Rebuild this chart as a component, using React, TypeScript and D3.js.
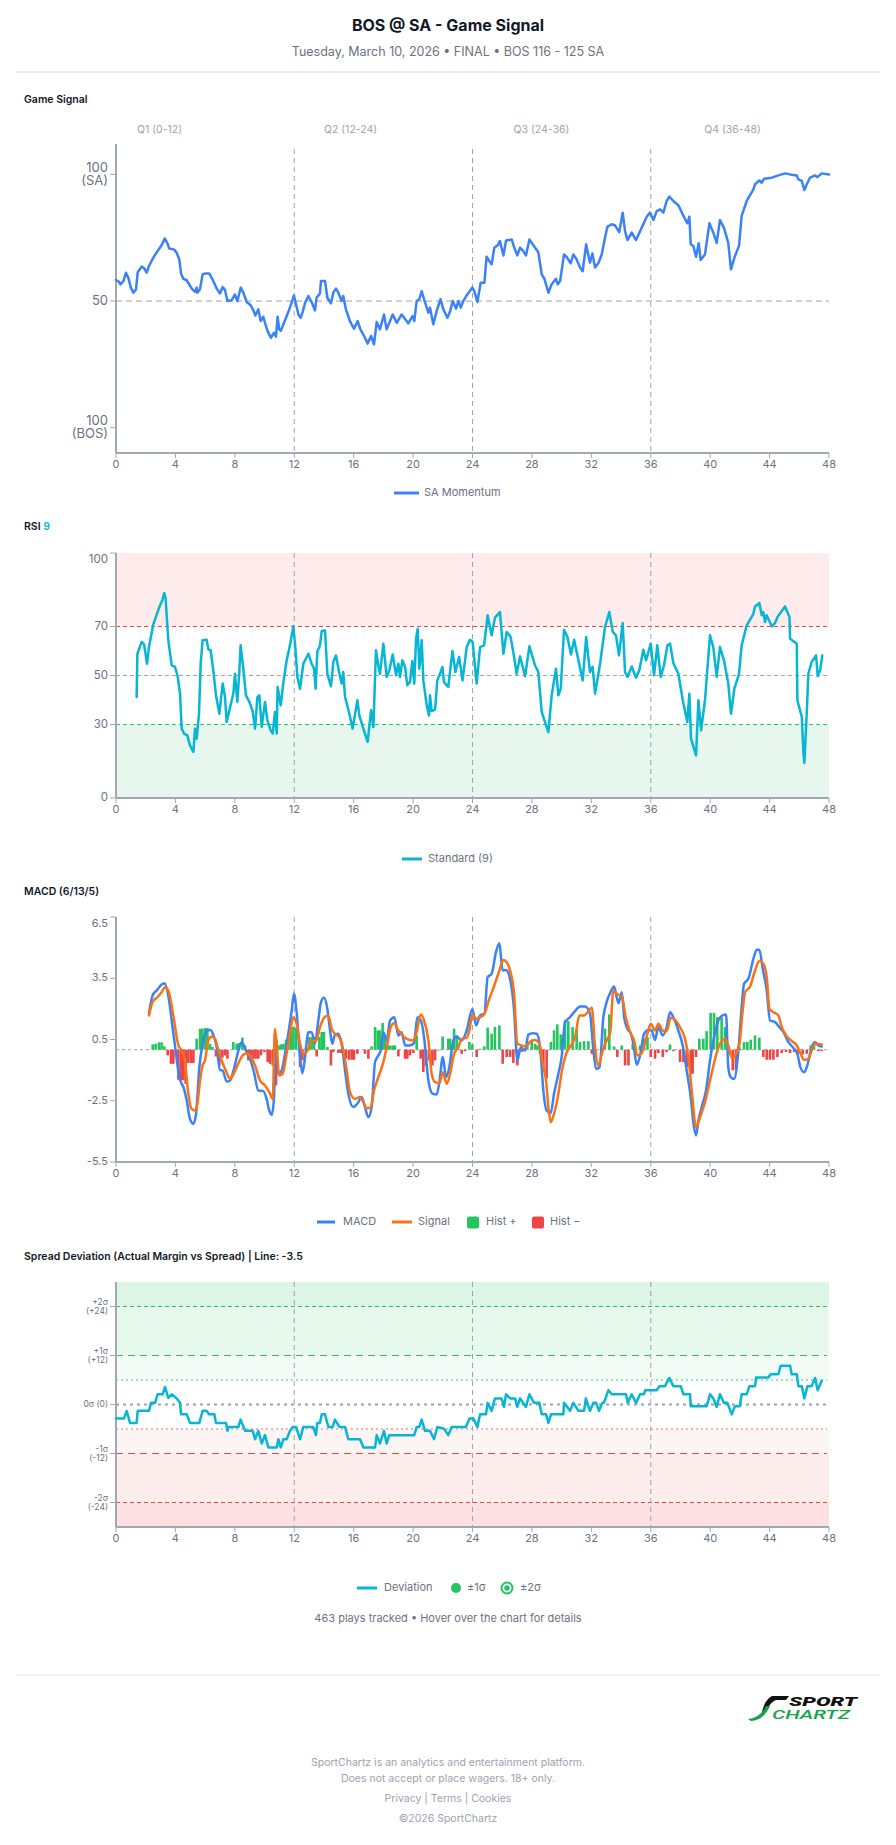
import React from 'react';
import * as d3 from 'd3';

// ---------------- DATA ----------------
const xTicks = [0, 4, 8, 12, 16, 20, 24, 28, 32, 36, 40, 44, 48];
const quarterBreaks = [12, 24, 36];
const quarterLabels = ['Q1 (0-12)', 'Q2 (12-24)', 'Q3 (24-36)', 'Q4 (36-48)'];

const gameSignal: [number, number][] = [
  [0,58.3],[0.2,57.6],[0.3,56.6],[0.5,57.9],[0.67,61.2],[0.83,59.2],[1.0,55.3],[1.17,53.3],[1.35,54.6],[1.46,61.4],[1.73,63.6],[1.9,62.9],[2.06,61.2],[2.24,64.1],[2.6,68],[3.07,72],[3.28,74.7],[3.46,72.8],[3.59,70.7],[3.9,70.4],[4.08,69.1],[4.26,66.4],[4.38,60.9],[4.53,58.8],[4.76,58.2],[5.1,54.9],[5.32,53.6],[5.43,55.3],[5.47,53.3],[5.65,54.6],[5.83,60.5],[6.0,60.9],[6.28,60.9],[6.55,57.9],[6.78,54.9],[7.0,53],[7.18,55.5],[7.34,54.3],[7.5,50],[7.79,50.3],[8.0,52.6],[8.17,50],[8.4,55.3],[8.57,53.3],[8.8,49.6],[9.07,48.3],[9.25,46.4],[9.38,44.3],[9.58,46.7],[9.74,42.1],[9.92,43.8],[10.03,41.4],[10.2,38.2],[10.43,35.5],[10.64,37.5],[10.77,35.9],[10.88,43.8],[10.99,38.8],[11.1,38.2],[11.31,41.4],[11.67,46.7],[11.98,52.2],[12.12,48.7],[12.28,44.7],[12.43,43.4],[12.57,45.7],[12.73,49.3],[12.95,52],[13.17,49.6],[13.4,46.3],[13.5,51.3],[13.73,53],[13.8,57.9],[14.07,57.9],[14.23,51.3],[14.47,49.1],[14.63,53.3],[14.81,54.9],[14.97,53.3],[15.19,50],[15.3,52],[15.48,46.7],[15.75,42.1],[16.02,39.1],[16.27,42.1],[16.43,39.1],[16.7,36.2],[16.94,33.2],[17.17,36.2],[17.37,32.9],[17.55,41.7],[17.77,38.8],[18.04,44.7],[18.22,38.8],[18.63,44.7],[18.9,41.4],[19.23,44.7],[19.68,41.2],[19.97,44.1],[20.08,42.1],[20.24,50],[20.42,50.7],[20.58,53.9],[20.74,50.7],[21.03,45.4],[21.14,47.4],[21.36,40.8],[21.59,46.1],[21.85,50.7],[22.04,46.7],[22.31,43.4],[22.5,46.1],[22.67,50],[22.89,47],[23.05,50],[23.21,47.4],[23.38,50],[23.65,52.6],[23.99,55.3],[24.12,53.9],[24.33,49.6],[24.55,57.2],[24.8,57.2],[24.95,67.5],[25.13,65.8],[25.29,64.5],[25.47,71.1],[25.7,72],[25.85,73.7],[26.08,68],[26.26,73.9],[26.64,74.3],[26.79,71.4],[27.02,68],[27.2,71.1],[27.42,69.7],[27.6,68],[27.83,74.3],[28.1,72],[28.43,69.3],[28.66,60.5],[28.84,58.8],[29.11,53.3],[29.33,56.6],[29.62,58.8],[29.74,56.6],[29.9,57.9],[30.16,68.4],[30.33,67.5],[30.61,64.9],[30.79,68.4],[31.01,66.4],[31.24,63.2],[31.42,61.8],[31.65,72.4],[31.91,65.1],[32.07,68.8],[32.25,63.2],[32.47,64.9],[32.7,68.4],[32.92,75],[33.08,79.3],[33.37,80.3],[33.59,79.9],[33.88,77.2],[34.11,84.9],[34.27,77.6],[34.43,74.1],[34.72,77],[35.01,74.1],[35.39,78.9],[35.73,83.3],[35.95,84.9],[36.18,82],[36.4,85.5],[36.63,86.2],[36.85,84.9],[37.07,89.5],[37.25,91.2],[37.52,89.5],[37.86,87.8],[38.2,83.6],[38.46,80.7],[38.6,83.3],[38.69,72.4],[38.87,71.7],[39.05,67.5],[39.23,72.8],[39.36,66.2],[39.65,68.4],[39.95,80.7],[40.21,77],[40.44,73],[40.66,82],[40.93,78.9],[41.22,73],[41.4,62.5],[41.67,67.8],[41.94,71.7],[42.12,83.6],[42.46,89.5],[42.91,94.1],[43.02,96.1],[43.31,97.6],[43.47,96.7],[43.63,98.3],[44.15,98.7],[44.59,99.6],[45.04,100.4],[45.38,100],[45.83,99.6],[45.94,98],[46.17,97.4],[46.34,93.8],[46.5,96.1],[46.73,98.7],[47.06,99.6],[47.22,98.9],[47.51,100.4],[48,100]
];

const rsiTicks = [0, 30, 50, 70, 100];
const rsiSeries: [number, number][] = [
  [1.39,41.2],[1.44,58.9],[1.73,63.7],[1.89,62.7],[2.09,54.8],[2.22,61.6],[2.51,70.9],[2.96,78.6],[3.12,80.7],[3.25,83.7],[3.34,81.4],[3.52,64.4],[3.75,54.1],[3.97,53.5],[4.15,49.7],[4.31,42.6],[4.42,28.3],[4.58,26.3],[4.8,25.6],[4.98,21.5],[5.21,18.8],[5.32,28.3],[5.43,24.2],[5.59,34.4],[5.7,54.8],[5.83,64.4],[6.1,64.6],[6.22,60.7],[6.37,60.3],[6.55,52.1],[6.73,41.9],[6.96,34.4],[7.18,46.7],[7.34,41.2],[7.45,31],[7.68,37.1],[7.9,42.6],[8.01,50.7],[8.17,39.2],[8.3,51.4],[8.39,62.3],[8.57,52.8],[8.75,41.9],[8.98,39.2],[9.2,35.5],[9.36,28.3],[9.52,41.2],[9.65,41.9],[9.81,29],[10.03,39.2],[10.19,31.7],[10.41,27.6],[10.55,26.3],[10.7,35.1],[10.82,26.3],[10.88,45.3],[11.09,37.8],[11.27,47.3],[11.49,56.2],[11.71,62.3],[11.94,70.1],[12.07,61.6],[12.21,49.4],[12.39,44.6],[12.61,54.8],[12.95,58.9],[13.17,54.8],[13.33,52.8],[13.44,44.6],[13.55,59.6],[13.73,62.3],[13.85,68.2],[14.07,68.4],[14.23,50.7],[14.47,45.6],[14.63,55.5],[14.81,58.2],[15.04,50.7],[15.19,46.7],[15.3,51.4],[15.42,41.2],[15.71,34.4],[15.93,28.3],[16.25,39.9],[16.38,33.7],[16.65,28.3],[16.94,22.9],[17.17,35.8],[17.33,29],[17.5,60.3],[17.66,54.1],[17.77,50.7],[18.0,63],[18.22,49.4],[18.4,52.1],[18.63,58.6],[18.85,50.1],[19.01,54.8],[19.12,49.4],[19.28,56.2],[19.46,53.5],[19.61,46],[19.79,47.3],[19.95,55.9],[20.08,46.7],[20.2,65],[20.31,69.1],[20.42,52.8],[20.58,64.4],[20.69,48],[20.92,37.8],[21.07,33.7],[21.14,41.9],[21.25,35.5],[21.48,36.1],[21.63,48],[21.81,50.7],[21.97,53.5],[22.08,47.3],[22.37,45.3],[22.65,60],[22.85,51.4],[23.1,57.6],[23.33,48],[23.61,61.6],[23.83,64.6],[24.01,63.7],[24.28,46.7],[24.51,61.6],[24.78,62.3],[25.02,74.6],[25.29,66.4],[25.51,73.6],[25.85,75.9],[26.08,58.9],[26.3,67.8],[26.57,65.7],[26.8,57.6],[26.97,50.7],[27.2,57.8],[27.54,49.7],[27.83,61.9],[28.21,54.1],[28.43,51.4],[28.66,35.1],[28.88,31],[29.11,26.9],[29.33,41.9],[29.62,52.8],[29.78,41.9],[29.94,44.6],[30.16,68.7],[30.39,65.7],[30.63,58.6],[30.84,64.6],[31.13,56.2],[31.42,48],[31.65,65.7],[31.91,51.4],[32.09,53.5],[32.25,42.6],[32.59,54.8],[32.92,69.8],[33.21,75.9],[33.44,67.8],[33.66,66.4],[33.86,58.2],[34.11,71.4],[34.27,51.4],[34.43,49.4],[34.72,53.7],[35.01,49.1],[35.23,52.1],[35.5,60.5],[35.68,56.2],[36.0,63],[36.22,50.1],[36.44,62.3],[36.67,49.4],[36.89,54.1],[37.12,62.3],[37.3,63],[37.52,55.1],[37.86,50.7],[38.15,40.1],[38.46,31],[38.6,42.6],[38.71,24.2],[39.05,17.4],[39.21,39.9],[39.39,27.6],[39.65,39.9],[39.99,66.4],[40.21,61.6],[40.44,49.4],[40.66,61.6],[40.93,56.2],[41.22,46.7],[41.4,34.4],[41.63,44.6],[41.94,50.7],[42.12,62.3],[42.46,70.5],[42.91,75.2],[43.02,78.2],[43.31,79.6],[43.47,74.6],[43.58,75.9],[43.69,71.8],[43.8,74.6],[44.15,70.1],[44.37,71.4],[44.53,73.9],[45.04,78.2],[45.34,73.9],[45.38,65],[45.83,63],[45.87,39.9],[46.17,33.1],[46.28,18.1],[46.34,14.3],[46.5,34.4],[46.61,50.7],[46.83,55.5],[47.13,58.2],[47.24,49.7],[47.4,52.1],[47.55,58.2]
];

const macdTicks = [-5.5, -2.5, 0.5, 3.5, 6.5];
const macdSeries: [number, number][] = [
  [2.22,1.76],[2.46,2.66],[2.74,2.9],[3.07,3.19],[3.25,3.26],[3.52,2.66],[3.75,1.43],[3.97,0.21],[4.26,-1.34],[4.58,-1.92],[4.76,-2.49],[4.98,-3.39],[5.21,-3.63],[5.39,-3.14],[5.61,-0.86],[5.83,0.29],[6.1,0.91],[6.33,0.97],[6.55,0.74],[6.78,0.12],[7.0,-0.99],[7.18,-1.02],[7.45,-1.56],[7.68,-1.51],[7.94,-0.94],[8.24,-0.04],[8.46,0.37],[8.75,-0.04],[9.02,-0.45],[9.29,-1.1],[9.58,-2.0],[9.92,-2.03],[10.14,-2.41],[10.32,-2.98],[10.48,-3.19],[10.64,-2.32],[10.77,0.61],[10.93,-1.18],[11.15,-1.02],[11.38,-0.2],[11.6,0.78],[11.83,1.92],[11.98,2.74],[12.16,1.84],[12.39,-0.36],[12.55,-1.15],[12.73,-0.36],[12.95,0.86],[13.17,0.86],[13.4,0.32],[13.62,1.43],[13.8,2.33],[14.0,2.54],[14.23,2.0],[14.41,0.94],[14.56,0.29],[14.74,0.74],[14.97,0.78],[15.19,0.29],[15.42,-1.02],[15.64,-2.16],[15.98,-2.81],[16.27,-2.62],[16.54,-2.32],[16.76,-2.81],[16.99,-3.3],[17.21,-2.81],[17.44,-0.6],[17.66,-0.28],[17.82,-0.04],[18.0,0.86],[18.22,0.45],[18.45,1.43],[18.74,1.59],[19.01,0.7],[19.23,0.86],[19.46,0.21],[19.79,0.21],[20.06,0.32],[20.29,1.59],[20.51,1.46],[20.74,0.61],[21.03,-1.51],[21.32,-2.16],[21.59,-2.19],[21.77,-1.59],[22.0,-0.36],[22.22,-1.34],[22.44,-0.86],[22.71,0.45],[22.94,0.65],[23.27,0.45],[23.61,0.94],[23.99,2.0],[24.24,1.19],[24.51,1.68],[24.8,1.76],[25.02,3.55],[25.29,3.72],[25.58,4.78],[25.81,5.22],[26.03,3.88],[26.26,3.91],[26.57,3.31],[26.8,1.92],[27.02,-0.53],[27.25,0.12],[27.54,-0.04],[27.76,0.74],[28.05,0.81],[28.32,0.78],[28.55,0.12],[28.77,-2.0],[28.99,-2.98],[29.26,-3.11],[29.49,-2.16],[29.78,-1.18],[30.0,-0.36],[30.23,1.35],[30.56,1.59],[30.9,1.89],[31.24,2.12],[31.58,2.12],[31.91,1.76],[32.14,-0.04],[32.32,-0.94],[32.55,-0.86],[32.81,1.59],[33.03,2.33],[33.26,2.77],[33.53,3.1],[33.71,2.57],[33.83,2.28],[34.05,2.82],[34.21,1.59],[34.43,1.02],[34.65,0.81],[34.83,0.29],[35.06,-0.74],[35.28,-0.28],[35.55,0.78],[35.84,0.97],[36.06,0.94],[36.29,0.48],[36.51,1.1],[36.81,0.7],[37.07,1.1],[37.3,1.84],[37.52,1.59],[37.86,0.94],[38.15,0.21],[38.42,-1.02],[38.69,-2.32],[38.91,-3.79],[39.05,-4.2],[39.21,-3.47],[39.43,-2.81],[39.72,-2.0],[39.99,-0.53],[40.26,0.61],[40.55,1.43],[40.84,1.68],[41.07,1.72],[41.22,-0.86],[41.38,-1.34],[41.61,-1.43],[41.9,-0.04],[42.12,2.08],[42.28,3.23],[42.57,3.47],[42.91,4.45],[43.13,4.89],[43.31,4.89],[43.54,3.96],[43.81,2.9],[44.03,1.43],[44.37,1.35],[44.66,1.1],[44.93,0.86],[45.27,0.37],[45.56,0.12],[45.87,-0.2],[46.09,-0.89],[46.32,-1.1],[46.54,-0.77],[46.83,0.12],[47.06,0.37],[47.28,0.21],[47.51,0.16]
];

const signalSeries: [number, number][] = [
  [2.22,1.68],[2.46,2.33],[2.78,2.57],[3.07,2.82],[3.3,3.06],[3.52,2.9],[3.86,1.68],[4.2,0.21],[4.42,-0.04],[4.65,-0.61],[4.87,-2.16],[5.09,-2.9],[5.32,-2.98],[5.48,-2.65],[5.66,-1.51],[5.83,-0.77],[5.99,-0.53],[6.22,0.48],[6.44,0.65],[6.67,0.53],[6.89,-0.04],[7.11,-0.53],[7.41,-1.05],[7.68,-1.43],[7.94,-1.15],[8.24,-0.66],[8.53,-0.28],[8.8,-0.17],[9.07,-0.36],[9.36,-0.77],[9.69,-1.51],[10.03,-1.75],[10.32,-2.08],[10.55,-2.41],[10.7,1.02],[10.82,0.12],[10.99,-1.26],[11.22,-1.18],[11.45,-0.36],[11.67,0.61],[11.94,1.59],[12.16,1.27],[12.39,0.29],[12.66,-0.2],[12.95,0.04],[13.17,0.45],[13.46,0.42],[13.73,1.1],[14.0,1.56],[14.29,1.68],[14.52,1.02],[14.74,0.78],[15.04,0.61],[15.26,0.12],[15.53,-1.02],[15.75,-2.08],[16.09,-2.41],[16.43,-2.32],[16.65,-2.57],[16.88,-2.87],[17.15,-2.82],[17.37,-2.0],[17.66,-1.34],[18.0,-0.61],[18.27,0.29],[18.49,1.1],[18.72,1.3],[19.01,0.94],[19.23,0.74],[19.57,0.53],[20.02,0.45],[20.24,0.86],[20.51,1.72],[20.74,1.43],[21.03,0.45],[21.25,-1.18],[21.48,-1.59],[21.77,-1.64],[22.0,-1.1],[22.26,-1.67],[22.49,-1.18],[22.76,-0.2],[23.05,0.12],[23.27,0.53],[23.61,0.58],[23.79,0.94],[23.99,1.72],[24.24,1.51],[24.51,1.59],[24.8,1.76],[25.13,2.49],[25.51,3.23],[25.81,3.88],[26.08,4.4],[26.3,4.29],[26.53,3.88],[26.8,2.74],[27.02,0.29],[27.31,0.21],[27.6,0.16],[27.92,0.42],[28.21,0.48],[28.5,0.29],[28.73,-0.69],[28.95,-1.51],[29.11,-2.81],[29.26,-3.55],[29.49,-3.14],[29.78,-2.16],[30.0,-1.1],[30.3,-0.2],[30.68,0.26],[30.9,0.61],[31.2,1.68],[31.51,1.68],[31.8,1.89],[32.03,2.05],[32.25,0.12],[32.47,-0.77],[32.77,-0.04],[33.08,0.53],[33.26,0.78],[33.48,2.9],[33.71,2.74],[34.05,2.61],[34.34,1.51],[34.61,0.86],[34.88,0.45],[35.1,-0.28],[35.39,-0.17],[35.68,0.53],[36.0,1.27],[36.29,0.94],[36.51,1.27],[36.81,0.94],[37.07,0.91],[37.34,1.56],[37.64,1.46],[37.97,1.1],[38.31,0.53],[38.53,-0.36],[38.76,-2.0],[39.05,-3.79],[39.32,-3.3],[39.65,-2.57],[39.99,-1.51],[40.33,-0.45],[40.66,0.29],[41.0,0.53],[41.22,0.21],[41.45,-0.4],[41.67,-0.28],[41.97,0.29],[42.19,1.92],[42.35,2.82],[42.69,3.1],[43.02,3.88],[43.31,4.34],[43.58,4.21],[43.81,3.55],[43.99,2.0],[44.26,1.84],[44.59,1.68],[44.82,1.1],[45.16,0.65],[45.5,0.42],[45.83,0.21],[46.09,-0.2],[46.32,-0.5],[46.61,-0.45],[46.83,-0.04],[47.06,0.29],[47.51,0.26]
];

const histSeries: [number, number][] = [
  [2.47,0.26],[2.67,0.29],[2.89,0.36],[3.07,0.36],[3.25,0.16],[3.48,-0.28],[3.7,-0.69],[3.86,-0.69],[4.2,-1.47],[4.38,-1.5],[4.53,-1.5],[4.69,-1.67],[4.87,-0.65],[5.05,-0.65],[5.21,-0.65],[5.43,0.54],[5.66,1.03],[5.81,1.03],[5.99,1.06],[6.15,1.06],[6.33,0.29],[6.49,0.13],[6.73,-0.33],[6.96,-0.77],[7.16,-0.39],[7.34,-0.28],[7.5,-0.44],[7.9,0.38],[8.12,0.29],[8.28,0.33],[8.51,0.59],[8.69,0.21],[8.91,-0.52],[9.07,-0.52],[9.25,-0.44],[9.4,-0.44],[9.58,-0.44],[9.76,-0.28],[9.99,-0.11],[10.21,-0.6],[10.37,-0.69],[10.55,-0.77],[10.77,-1.75],[10.93,0.21],[11.09,0.26],[11.27,0.29],[11.45,0.49],[11.6,0.62],[11.76,0.95],[11.94,1.11],[12.12,1.08],[12.39,-0.85],[12.55,-0.52],[12.79,0.13],[13.02,0.62],[13.17,0.62],[13.33,0.62],[13.51,-0.33],[13.69,0.62],[13.85,0.87],[14.0,0.87],[14.23,0.13],[14.47,-0.77],[14.63,-0.11],[14.97,-0.16],[15.13,-0.16],[15.48,-0.44],[15.69,-0.49],[15.87,-0.49],[16.02,-0.49],[16.25,-0.2],[16.76,-0.2],[16.99,-0.44],[17.21,0.16],[17.44,1.11],[17.62,0.95],[17.77,0.95],[17.95,1.31],[18.11,0.62],[18.29,0.21],[18.45,0.21],[18.63,0.21],[18.78,0.21],[19.01,-0.33],[19.46,-0.44],[19.61,-0.44],[19.79,-0.28],[20.02,-0.16],[20.24,0.7],[20.51,-0.44],[20.69,-1.09],[20.87,-0.77],[21.07,-0.52],[21.3,-0.77],[21.48,-0.52],[21.7,-0.03],[21.99,0.65],[22.37,0.54],[22.49,0.54],[22.76,1.03],[22.94,0.7],[23.27,-0.2],[23.5,-0.07],[23.79,0.38],[23.99,0.26],[24.28,-0.36],[24.51,0.05],[24.8,0.16],[25.02,1.08],[25.29,0.78],[25.51,1.11],[25.81,1.19],[26.03,-0.69],[26.3,-0.36],[26.53,-0.36],[26.75,-0.65],[27.02,-0.77],[27.31,-0.11],[27.69,0.26],[27.99,0.46],[28.21,0.29],[28.37,0.21],[28.55,-0.2],[28.77,-1.09],[28.99,-1.42],[29.28,0.38],[29.49,0.95],[29.71,1.24],[29.94,0.75],[30.23,1.44],[30.45,1.4],[30.74,1.11],[31.01,0.98],[31.24,0.38],[31.51,0.42],[31.8,0.42],[32.03,-0.2],[32.25,-0.11],[32.92,1.03],[33.21,1.73],[33.53,0.16],[33.75,-0.36],[34.05,0.21],[34.27,-0.77],[34.5,-0.77],[34.79,0.29],[35.28,0.21],[35.55,0.54],[35.78,0.62],[36.0,-0.36],[36.29,-0.44],[36.51,-0.16],[36.81,-0.36],[37.07,-0.11],[37.3,0.26],[37.52,-0.07],[37.97,-0.6],[38.2,-0.6],[38.42,-0.85],[38.69,-1.18],[38.82,-1.18],[39.05,-0.36],[39.27,0.54],[39.54,0.54],[39.76,0.91],[40.03,1.8],[40.26,1.8],[40.48,1.6],[40.77,1.57],[41.0,1.11],[41.22,-0.16],[41.52,-1.01],[41.74,-1.01],[41.97,0.13],[42.28,0.38],[42.5,0.38],[42.73,0.49],[43.02,0.7],[43.31,0.59],[43.58,-0.36],[43.81,-0.49],[44.03,-0.49],[44.26,-0.49],[44.53,-0.36],[44.82,-0.16],[45.11,-0.11],[45.38,-0.16],[45.65,-0.11],[45.94,-0.2],[46.23,-0.23],[46.5,-0.2],[46.77,0.21],[46.99,0.29],[47.28,-0.07],[47.51,-0.07]
];

const spreadTicks = [
  { v: 24, a: '+2σ', b: '(+24)' },
  { v: 12, a: '+1σ', b: '(+12)' },
  { v: 0, a: '0σ (0)', b: '' },
  { v: -12, a: '-1σ', b: '(-12)' },
  { v: -24, a: '-2σ', b: '(-24)' },
];
const spreadSeries: [number, number][] = [
  [0,-3.4],[0.54,-3.4],[0.72,-1.6],[0.94,-4.5],[1.39,-4.5],[1.46,-1.55],[2.22,-1.55],[2.36,0.4],[2.63,0.4],[2.8,2.5],[3.14,2.5],[3.3,4.3],[3.52,1.6],[3.75,2.5],[4.08,1.5],[4.31,0.4],[4.38,-2.4],[4.76,-2.4],[4.98,-4.5],[5.61,-4.5],[5.83,-1.55],[6.1,-1.55],[6.26,-2.4],[6.62,-2.4],[6.73,-4.5],[7.41,-4.5],[7.5,-6.45],[7.59,-5.5],[8.24,-5.5],[8.39,-3.7],[8.69,-6.45],[9.2,-6.45],[9.36,-8.5],[9.58,-6.45],[9.81,-9.55],[10.03,-7.5],[10.26,-10.5],[10.82,-10.5],[10.93,-8.5],[11.09,-10.5],[11.27,-8.5],[11.49,-8.5],[11.71,-6.45],[11.89,-5.5],[12.12,-5.5],[12.39,-8.5],[12.61,-5.5],[13.28,-5.5],[13.46,-7.5],[13.55,-4.5],[13.73,-4.5],[13.85,-2.4],[14.07,-2.4],[14.3,-5.5],[14.59,-5.5],[14.74,-3.7],[15.04,-5.5],[15.42,-5.5],[15.64,-8.5],[16.43,-8.5],[16.65,-10.5],[17.44,-10.5],[17.55,-7.5],[17.77,-9.55],[18.04,-6.45],[18.22,-9.55],[18.4,-7.5],[20.08,-7.5],[20.24,-5.5],[20.42,-5.5],[20.58,-3.7],[20.8,-6.45],[21.14,-6.45],[21.41,-8.5],[21.63,-5.5],[22.08,-5.9],[22.37,-7.5],[22.6,-5.5],[23.56,-5.5],[23.79,-3.4],[24.06,-3.4],[24.33,-5.5],[24.51,-2.4],[24.91,-2.4],[25.02,0.4],[25.29,-1.55],[25.51,1.5],[25.96,1.5],[26.12,-0.6],[26.26,2.5],[26.53,1.5],[26.87,1.5],[27.02,-0.6],[27.2,1.5],[27.6,-0.6],[27.83,2.5],[28.14,0.4],[28.5,0.4],[28.66,-2.4],[28.95,-2.4],[29.11,-4.5],[29.29,-2.4],[30.12,-2.4],[30.16,0.4],[30.57,-1.55],[30.79,0.4],[31.13,-1.55],[31.51,-1.55],[31.63,1.5],[31.91,-1.55],[32.14,0.4],[32.32,0.4],[32.52,-1.55],[32.74,0.4],[32.85,0.4],[33.15,3.5],[33.37,2.5],[34.34,2.5],[34.45,0.4],[34.72,2.5],[35.01,0.4],[35.28,2.5],[35.55,2.5],[35.62,3.5],[36.4,3.5],[36.58,4.5],[36.96,4.5],[37.25,6.5],[37.52,4.5],[38.02,4.5],[38.2,2.5],[38.65,2.5],[38.69,-0.4],[39.77,-0.4],[39.99,2.5],[40.21,1.5],[40.44,-0.6],[40.66,2.5],[40.93,0.4],[41.16,0.4],[41.45,-2.4],[41.67,-0.4],[42.0,-0.4],[42.12,2.5],[42.46,2.5],[42.64,4.5],[43.02,4.5],[43.09,6.6],[43.92,6.6],[44.07,7.4],[44.59,7.4],[44.75,9.5],[45.38,9.5],[45.49,7.4],[45.83,7.4],[45.94,4.5],[46.17,4.5],[46.34,1.5],[46.55,4.5],[46.83,4.5],[47.06,6.5],[47.24,3.5],[47.51,5.8]
];

// ---------------- STYLE ----------------
const FONT = 'Inter, "Noto Sans", sans-serif';
const AXIS = '#a3a7b0';
const TICK_TXT = '#6b7280';
const GRID = '#9ca3af';
const BLUE = '#3b82f6';
const CYAN = '#06b6d4';
const ORANGE = '#f97316';
const GREEN = '#22c55e';
const RED = '#ef4444';

const X0 = 116, X1 = 829;

function XAxis({ x, y }: { x: d3.ScaleLinear<number, number>; y: number }) {
  return (
    <g>
      <line x1={X0} x2={X1} y1={y} y2={y} stroke={AXIS} strokeWidth={2} />
      {xTicks.map((t) => (
        <g key={t}>
          <line x1={x(t)} x2={x(t)} y1={y} y2={y + 5} stroke={AXIS} strokeWidth={1} />
          <text x={x(t)} y={y + 12} textAnchor="middle" dominantBaseline="middle" fontSize={11} fill={TICK_TXT}>{t}</text>
        </g>
      ))}
    </g>
  );
}

function YAxisLine({ top, bottom }: { top: number; bottom: number }) {
  return <line x1={X0} x2={X0} y1={top} y2={bottom} stroke={AXIS} strokeWidth={2} />;
}

function QuarterLines({ x, top, bottom }: { x: d3.ScaleLinear<number, number>; top: number; bottom: number }) {
  return (
    <g>
      {quarterBreaks.map((q) => (
        <line key={q} x1={x(q)} x2={x(q)} y1={top} y2={bottom} stroke={GRID} strokeWidth={1} strokeDasharray="5 4" />
      ))}
    </g>
  );
}

export default function App() {
  const x = d3.scaleLinear().domain([0, 48]).range([X0, X1]);

  // Panel scales
  const y1 = d3.scaleLinear().domain([-10, 112]).range([453, 144]);
  const y2 = d3.scaleLinear().domain([0, 100]).range([798, 553]);
  const y3 = d3.scaleLinear().domain([-5.5, 6.5]).range([1162, 917]);
  const y4 = d3.scaleLinear().domain([-30, 30]).range([1527, 1282]);

  const line1 = d3.line<[number, number]>().x((d) => x(d[0])).y((d) => y1(d[1]));
  const line2 = d3.line<[number, number]>().x((d) => x(d[0])).y((d) => y2(d[1]));
  const line3 = d3.line<[number, number]>().x((d) => x(d[0])).y((d) => y3(d[1])).curve(d3.curveMonotoneX);
  const line4 = d3.line<[number, number]>().x((d) => x(d[0])).y((d) => y4(d[1]));

  const qWidth = 191;
  const qStart = 64;

  return (
    <svg
      width={896}
      height={1845}
      viewBox="0 0 896 1845"
      style={{ position: 'absolute', left: 0, top: 0, fontFamily: FONT, background: '#fff' }}
    >
      <rect x={0} y={0} width={896} height={1845} fill="#fff" />

      {/* Header */}
      <text x={448} y={27} textAnchor="middle" dominantBaseline="middle" fontSize={16} fontWeight={700} fill="#111827">BOS @ SA - Game Signal</text>
      <text x={448} y={53} textAnchor="middle" dominantBaseline="middle" fontSize={12.5} fill={TICK_TXT}>Tuesday, March 10, 2026 • FINAL • BOS 116 - 125 SA</text>
      <line x1={16} x2={880} y1={72} y2={72} stroke="#d9dce1" strokeWidth={1} />

      {/* ---------- Panel 1: Game Signal ---------- */}
      <text x={24} y={100} dominantBaseline="middle" fontSize={10.5} fontWeight={600} fill="#111827">Game Signal</text>
      {quarterLabels.map((q, i) => (
        <text key={q} x={qStart + qWidth * (i + 0.5)} y={130} textAnchor="middle" dominantBaseline="middle" fontSize={10.5} fill="#9ca3af">{q}</text>
      ))}
      <line x1={X0} x2={X1} y1={y1(50)} y2={y1(50)} stroke={GRID} strokeWidth={1} strokeDasharray="6 4" />
      <QuarterLines x={x} top={149} bottom={453} />
      <YAxisLine top={144} bottom={453} />
      {[100, 50, 0].map((v) => (
        <line key={v} x1={X0 - 6} x2={X0} y1={y1(v)} y2={y1(v)} stroke={AXIS} strokeWidth={1} />
      ))}
      <text x={108} y={y1(100) - 6} textAnchor="end" dominantBaseline="middle" fontSize={13} fill={TICK_TXT}>100</text>
      <text x={108} y={y1(100) + 7} textAnchor="end" dominantBaseline="middle" fontSize={13} fill={TICK_TXT}>(SA)</text>
      <text x={108} y={y1(50)} textAnchor="end" dominantBaseline="middle" fontSize={13} fill={TICK_TXT}>50</text>
      <text x={108} y={y1(0) - 6} textAnchor="end" dominantBaseline="middle" fontSize={13} fill={TICK_TXT}>100</text>
      <text x={108} y={y1(0) + 7} textAnchor="end" dominantBaseline="middle" fontSize={13} fill={TICK_TXT}>(BOS)</text>
      <XAxis x={x} y={453} />
      <path d={line1(gameSignal) || ''} fill="none" stroke={BLUE} strokeWidth={2.5} strokeLinejoin="round" strokeLinecap="round" />
      <line x1={394} x2={419} y1={493} y2={493} stroke={BLUE} strokeWidth={3} />
      <text x={424} y={493} dominantBaseline="middle" fontSize={11} fill={TICK_TXT}>SA Momentum</text>

      {/* ---------- Panel 2: RSI ---------- */}
      <text x={24} y={527} dominantBaseline="middle" fontSize={10.5} fontWeight={600} fill="#111827">
        RSI <tspan fill={CYAN}>9</tspan>
      </text>
      <rect x={X0} y={y2(100)} width={X1 - X0} height={y2(70) - y2(100)} fill="#fdeceb" />
      <rect x={X0} y={y2(30)} width={X1 - X0} height={y2(0) - y2(30)} fill="#e8f7ed" />
      <line x1={X0} x2={827} y1={y2(70)} y2={y2(70)} stroke={RED} strokeWidth={1} strokeDasharray="4 3" />
      <line x1={X0} x2={827} y1={y2(50)} y2={y2(50)} stroke={GRID} strokeWidth={1} strokeDasharray="4 3" />
      <line x1={X0} x2={827} y1={y2(30)} y2={y2(30)} stroke={GREEN} strokeWidth={1} strokeDasharray="4 3" />
      <QuarterLines x={x} top={553} bottom={798} />
      <YAxisLine top={553} bottom={798} />
      {rsiTicks.map((v) => (
        <g key={v}>
          <line x1={X0 - 6} x2={X0} y1={y2(v)} y2={y2(v)} stroke={AXIS} strokeWidth={1} />
          <text x={108} y={Math.max(y2(v), 560)} textAnchor="end" dominantBaseline="middle" fontSize={11.5} fill={TICK_TXT}>{v}</text>
        </g>
      ))}
      <XAxis x={x} y={798} />
      <path d={line2(rsiSeries) || ''} fill="none" stroke={CYAN} strokeWidth={2.5} strokeLinejoin="round" strokeLinecap="round" />
      <line x1={402} x2={422} y1={859} y2={859} stroke={CYAN} strokeWidth={3} />
      <text x={428} y={859} dominantBaseline="middle" fontSize={11} fill={TICK_TXT}>Standard (9)</text>

      {/* ---------- Panel 3: MACD ---------- */}
      <text x={24} y={892} dominantBaseline="middle" fontSize={10.5} fontWeight={600} fill="#111827">MACD (6/13/5)</text>
      <line x1={X0} x2={X1} y1={y3(0)} y2={y3(0)} stroke={GRID} strokeWidth={1} strokeDasharray="3 3" />
      <QuarterLines x={x} top={917} bottom={1162} />
      {histSeries.map(([m, v], i) => (
        <rect
          key={i}
          x={x(m) - 1.3}
          y={Math.min(y3(v), y3(0))}
          width={2.6}
          height={Math.max(Math.abs(y3(v) - y3(0)), 0.8)}
          fill={v >= 0 ? GREEN : RED}
        />
      ))}
      <YAxisLine top={917} bottom={1162} />
      {macdTicks.map((v) => (
        <g key={v}>
          <line x1={X0 - 6} x2={X0} y1={y3(v)} y2={y3(v)} stroke={AXIS} strokeWidth={1} />
          <text x={108} y={Math.max(y3(v), 924)} textAnchor="end" dominantBaseline="middle" fontSize={11} fill={TICK_TXT}>{v}</text>
        </g>
      ))}
      <XAxis x={x} y={1162} />
      <path d={line3(macdSeries) || ''} fill="none" stroke={BLUE} strokeWidth={2.5} strokeLinejoin="round" strokeLinecap="round" />
      <path d={line3(signalSeries) || ''} fill="none" stroke={ORANGE} strokeWidth={2.5} strokeLinejoin="round" strokeLinecap="round" />
      <line x1={317} x2={335} y1={1222} y2={1222} stroke={BLUE} strokeWidth={3} />
      <text x={343} y={1222} dominantBaseline="middle" fontSize={11} fill={TICK_TXT}>MACD</text>
      <line x1={392} x2={412} y1={1222} y2={1222} stroke={ORANGE} strokeWidth={3} />
      <text x={418} y={1222} dominantBaseline="middle" fontSize={11} fill={TICK_TXT}>Signal</text>
      <rect x={467} y={1216.5} width={12} height={12} rx={2} fill={GREEN} />
      <text x={486} y={1222} dominantBaseline="middle" fontSize={11} fill={TICK_TXT}>Hist +</text>
      <rect x={532} y={1216.5} width={12} height={12} rx={2} fill={RED} />
      <text x={550} y={1222} dominantBaseline="middle" fontSize={11} fill={TICK_TXT}>Hist −</text>

      {/* ---------- Panel 4: Spread Deviation ---------- */}
      <text x={24} y={1257} dominantBaseline="middle" fontSize={10.5} fontWeight={600} fill="#111827">Spread Deviation (Actual Margin vs Spread) | Line: -3.5</text>
      <rect x={X0} y={y4(30)} width={X1 - X0} height={y4(24) - y4(30)} fill="#dcf5e5" />
      <rect x={X0} y={y4(24)} width={X1 - X0} height={y4(12) - y4(24)} fill="#e7f8ed" />
      <rect x={X0} y={y4(12)} width={X1 - X0} height={y4(6) - y4(12)} fill="#f2fbf5" />
      <rect x={X0} y={y4(-6)} width={X1 - X0} height={y4(-12) - y4(-6)} fill="#fdf4f4" />
      <rect x={X0} y={y4(-12)} width={X1 - X0} height={y4(-24) - y4(-12)} fill="#fdecec" />
      <rect x={X0} y={y4(-24)} width={X1 - X0} height={y4(-30) - y4(-24)} fill="#fde0e1" />
      <line x1={X0} x2={827} y1={y4(24)} y2={y4(24)} stroke={GREEN} strokeWidth={1} strokeDasharray="4 3" />
      <line x1={X0} x2={827} y1={y4(12)} y2={y4(12)} stroke={GREEN} strokeWidth={1} strokeDasharray="7 5" />
      <line x1={X0} x2={827} y1={y4(6)} y2={y4(6)} stroke="#6ee7a0" strokeWidth={1.5} strokeDasharray="2 3" />
      <line x1={X0} x2={827} y1={y4(0)} y2={y4(0)} stroke={GRID} strokeWidth={2} strokeDasharray="3 4" />
      <line x1={X0} x2={827} y1={y4(-6)} y2={y4(-6)} stroke="#f59a9a" strokeWidth={1.5} strokeDasharray="2 3" />
      <line x1={X0} x2={827} y1={y4(-12)} y2={y4(-12)} stroke={RED} strokeWidth={1} strokeDasharray="7 5" />
      <line x1={X0} x2={827} y1={y4(-24)} y2={y4(-24)} stroke={RED} strokeWidth={1} strokeDasharray="4 3" />
      <QuarterLines x={x} top={1282} bottom={1527} />
      <YAxisLine top={1282} bottom={1527} />
      {spreadTicks.map((t) => (
        <g key={t.v}>
          <line x1={X0 - 6} x2={X0} y1={y4(t.v)} y2={y4(t.v)} stroke={AXIS} strokeWidth={1} />
          {t.b ? (
            <>
              <text x={108} y={y4(t.v) - 4} textAnchor="end" dominantBaseline="middle" fontSize={8.5} fill={TICK_TXT}>{t.a}</text>
              <text x={108} y={y4(t.v) + 5} textAnchor="end" dominantBaseline="middle" fontSize={8.5} fill={TICK_TXT}>{t.b}</text>
            </>
          ) : (
            <text x={108} y={y4(t.v)} textAnchor="end" dominantBaseline="middle" fontSize={8.5} fill={TICK_TXT}>{t.a}</text>
          )}
        </g>
      ))}
      <XAxis x={x} y={1527} />
      <path d={line4(spreadSeries) || ''} fill="none" stroke={CYAN} strokeWidth={2.5} strokeLinejoin="round" strokeLinecap="round" />
      <line x1={357} x2={377} y1={1588} y2={1588} stroke={CYAN} strokeWidth={3} />
      <text x={384} y={1588} dominantBaseline="middle" fontSize={11} fill={TICK_TXT}>Deviation</text>
      <circle cx={456} cy={1588} r={5} fill={GREEN} />
      <text x={467} y={1588} dominantBaseline="middle" fontSize={11} fill={TICK_TXT}>±1σ</text>
      <circle cx={507} cy={1588} r={5.5} fill="#fff" stroke={GREEN} strokeWidth={2} />
      <circle cx={507} cy={1588} r={2.8} fill={GREEN} />
      <text x={520} y={1588} dominantBaseline="middle" fontSize={11} fill={TICK_TXT}>±2σ</text>

      <text x={448} y={1619} textAnchor="middle" dominantBaseline="middle" fontSize={11} fill={TICK_TXT}>463 plays tracked • Hover over the chart for details</text>

      {/* ---------- Footer ---------- */}
      <line x1={16} x2={880} y1={1675} y2={1675} stroke="#e5e7eb" strokeWidth={1} />
      <g>
        <path d="M772,1696 L789,1696 L786,1700 L776,1700 Q770,1702 766,1712 L762,1712 Q765,1699 772,1696 Z" fill="#111" />
        <path d="M748,1719 Q760,1718 766,1706 L770,1706 Q764,1720 751,1721 Z" fill="#16a34a" />
        <text x={789} y={1705.5} fontSize={12.5} fontWeight={900} fontStyle="italic" fill="#111" fontFamily="Roboto, Inter, sans-serif" textLength={68} lengthAdjust="spacingAndGlyphs">SPORT</text>
        <text x={772} y={1719} fontSize={12} fontWeight={500} fontStyle="italic" fill="#16a34a" fontFamily="Roboto, Inter, sans-serif" textLength={78} lengthAdjust="spacingAndGlyphs">CHARTZ</text>
      </g>
      <text x={448} y={1763} textAnchor="middle" dominantBaseline="middle" fontSize={10.5} fill="#9ca3af">SportChartz is an analytics and entertainment platform.</text>
      <text x={448} y={1779} textAnchor="middle" dominantBaseline="middle" fontSize={10.5} fill="#9ca3af">Does not accept or place wagers. 18+ only.</text>
      <text x={448} y={1799} textAnchor="middle" dominantBaseline="middle" fontSize={10.5} fill="#9ca3af">Privacy  |  Terms  |  Cookies</text>
      <text x={448} y={1819} textAnchor="middle" dominantBaseline="middle" fontSize={10.5} fill="#9ca3af">©2026 SportChartz</text>
    </svg>
  );
}
